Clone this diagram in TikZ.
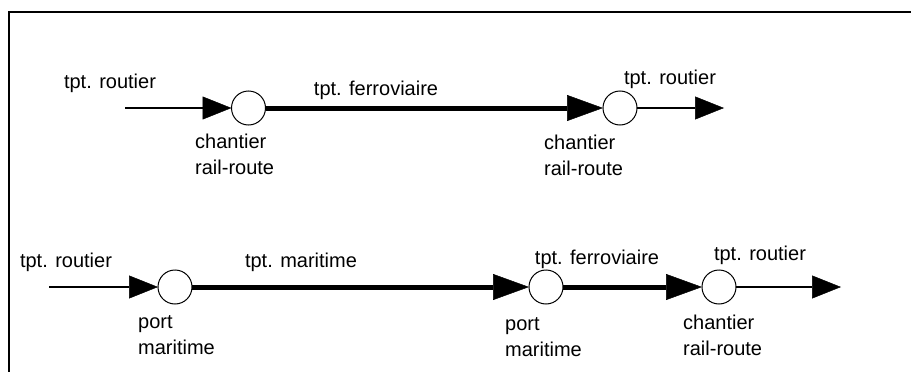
\documentclass[tikz,border=0pt]{standalone}
\usepackage{fontspec}
\setmainfont{Liberation Sans}
\usetikzlibrary{arrows.meta}
\begin{document}
\begin{tikzpicture}[x=1pt,y=-1pt,
  hub/.style={circle,draw,line width=1pt,minimum size=34pt,inner sep=0pt,outer sep=0pt},
  road/.style={line width=1.3pt,-{Triangle[length=29pt,width=23pt,line width=0.5pt]}},
  trunk/.style={line width=5pt,-{Triangle[length=36pt,width=26pt,line width=0.5pt]}},
  lbl/.style={font=\fontsize{20}{26}\selectfont,inner sep=0pt},
  site/.style={lbl,align=left,anchor=west}]
\useasboundingbox (0,0) rectangle (911,372);
% frame
\draw[line width=2.5pt] (9,372) -- (9,12) -- (911,12);

% rail-road chain
\coordinate (a0) at (125,108);
\node[hub] (c1) at (248.5,108) {};
\node[hub] (c2) at (620,108) {};
\coordinate (a3) at (724,108);
\draw[road] (a0) -- (c1);
\draw[trunk] (c1) -- (c2);
\draw[road] (c2) -- (a3);

\node[lbl] (r1) at (110,83) {tpt. routier};
\node[lbl] (f1) at (376,90) {tpt. ferroviaire};
\node[lbl] (r2) at (670,79) {tpt. routier};
\node[site] (s1) at (195,154) {chantier\\rail-route};
\node[site] (s2) at (544,155) {chantier\\rail-route};

% sea-rail-road chain
\coordinate (b0) at (49,287);
\node[hub] (d1) at (175,287) {};
\node[hub] (d2) at (546,287) {};
\node[hub] (d3) at (719,287) {};
\coordinate (b4) at (841,287);
\draw[road] (b0) -- (d1);
\draw[trunk] (d1) -- (d2);
\draw[trunk] (d2) -- (d3);
\draw[road] (d3) -- (b4);

\node[lbl] (r3) at (66,262) {tpt. routier};
\node[lbl] (m1) at (301,262) {tpt. maritime};
\node[lbl] (f2) at (597,259) {tpt. ferroviaire};
\node[lbl] (r4) at (760,255) {tpt. routier};
\node[site] (p1) at (138,335) {port\\maritime};
\node[site] (p2) at (505,337) {port\\maritime};
\node[site] (s3) at (683,335) {chantier\\rail-route};
\end{tikzpicture}
\end{document}
